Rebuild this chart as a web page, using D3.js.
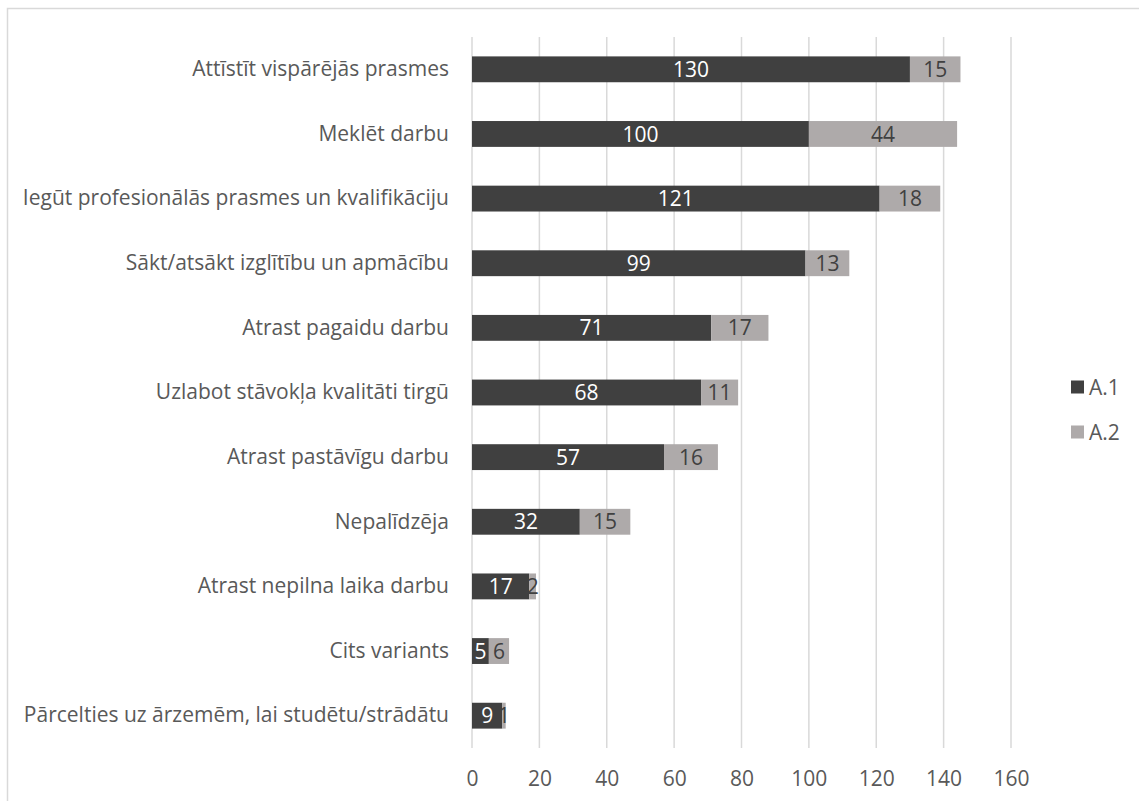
<!DOCTYPE html>
<html>
<head>
<meta charset="utf-8">
<script src="https://cdn.jsdelivr.net/npm/d3@7"></script>
<style>
  body { margin: 0; background: #fff; }
  text { font-family: "Open Sans", "Noto Sans", sans-serif; }
</style>
</head>
<body>
<svg id="chart" width="1139" height="801"></svg>
<script>
var categories = [
  "Attīstīt vispārējās prasmes",
  "Meklēt darbu",
  "Iegūt profesionālās prasmes un kvalifikāciju",
  "Sākt/atsākt izglītību un apmācību",
  "Atrast pagaidu darbu",
  "Uzlabot stāvokļa kvalitāti tirgū",
  "Atrast pastāvīgu darbu",
  "Nepalīdzēja",
  "Atrast nepilna laika darbu",
  "Cits variants",
  "Pārcelties uz ārzemēm, lai studētu/strādātu"
];
var seriesNames = ["A.1", "A.2"];
var a1 = [130, 100, 121, 99, 71, 68, 57, 32, 17, 5, 9];
var a2 = [15, 44, 18, 13, 17, 11, 16, 15, 2, 6, 1];
var xTicks = [0, 20, 40, 60, 80, 100, 120, 140, 160];
var colors = ["#404040", "#aeaaaa"];
var labelColors = ["#ffffff", "#404040"];
var fontSize = "21px";

var svg = d3.select("#chart");

// chart frame
svg.append("rect")
  .attr("x", 7.5).attr("y", 8.5)
  .attr("width", 1140).attr("height", 800)
  .attr("fill", "none")
  .attr("stroke", "#d9d9d9")
  .attr("stroke-width", 1.5);

var x = d3.scaleLinear().domain([0, 160]).range([472, 1011]);
var y = d3.scaleBand().domain(categories).range([37, 748]).paddingInner(0.6).paddingOuter(0.3);

// gridlines
svg.append("g")
  .selectAll("line")
  .data(xTicks)
  .enter()
  .append("line")
  .attr("x1", d => x(d)).attr("x2", d => x(d))
  .attr("y1", 37).attr("y2", 748)
  .attr("stroke", "#d9d9d9")
  .attr("stroke-width", 1.5);

// x axis labels
var xAxis = d3.axisBottom(x).tickValues(xTicks).tickSize(0).tickPadding(0);
var gx = svg.append("g").attr("transform", "translate(0,772)").call(xAxis);
gx.select(".domain").remove();
gx.selectAll("text")
  .attr("dy", "0.35em")
  .attr("y", 7)
  .attr("fill", "#595959")
  .style("font-size", fontSize)
  .style("font-family", "'Open Sans', sans-serif");

// category labels
var yAxis = d3.axisLeft(y).tickSize(0).tickPadding(0);
var gy = svg.append("g").attr("transform", "translate(449,0)").call(yAxis);
gy.select(".domain").remove();
gy.selectAll("text")
  .attr("fill", "#595959")
  .style("font-size", fontSize)
  .style("font-family", "'Open Sans', sans-serif");

var rows = categories.map(function (c, i) { return { cat: c, "A.1": a1[i], "A.2": a2[i] }; });
var stacked = d3.stack().keys(seriesNames)(rows);

var layers = svg.append("g")
  .selectAll("g")
  .data(stacked)
  .enter()
  .append("g");

layers.selectAll("rect")
  .data(d => d)
  .enter()
  .append("rect")
  .attr("x", d => x(d[0]))
  .attr("y", d => y(d.data.cat))
  .attr("width", d => x(d[1]) - x(d[0]))
  .attr("height", y.bandwidth())
  .attr("fill", function () { return colors[d3.select(this.parentNode).datum().index]; });

layers.selectAll("text")
  .data(d => d)
  .enter()
  .append("text")
  .attr("x", d => (x(d[0]) + x(d[1])) / 2)
  .attr("y", d => y(d.data.cat) + y.bandwidth() / 2)
  .attr("dy", "0.36em")
  .attr("text-anchor", "middle")
  .style("font-size", fontSize)
  .attr("fill", function () { return labelColors[d3.select(this.parentNode).datum().index]; })
  .text(d => d[1] - d[0]);

// legend
var legend = svg.append("g")
  .selectAll("g")
  .data(seriesNames)
  .enter()
  .append("g")
  .attr("transform", (d, i) => "translate(1071," + (387 + i * 45) + ")");
legend.append("rect")
  .attr("x", 0).attr("y", -6.5)
  .attr("width", 13).attr("height", 13)
  .attr("fill", (d, i) => colors[i]);
legend.append("text")
  .attr("x", 18).attr("dy", "0.36em")
  .attr("fill", "#595959")
  .style("font-size", fontSize)
  .text(d => d);
</script>
</body>
</html>
